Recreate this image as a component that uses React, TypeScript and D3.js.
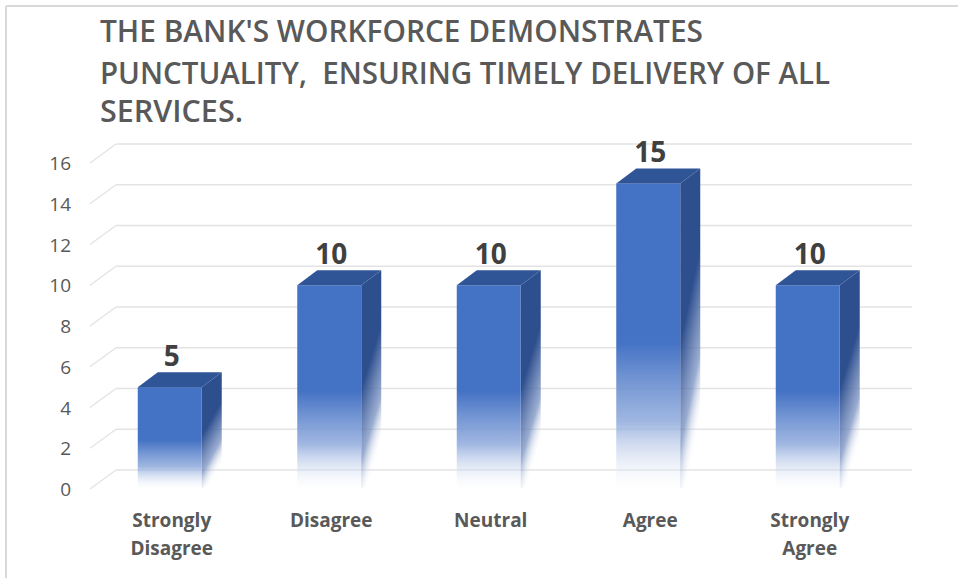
import React from "react";
import * as d3 from "d3";

const categories: string[][] = [
  ["Strongly", "Disagree"],
  ["Disagree"],
  ["Neutral"],
  ["Agree"],
  ["Strongly", "Agree"],
];
const values: number[] = [5, 10, 10, 15, 10];
const yTicks: number[] = [0, 2, 4, 6, 8, 10, 12, 14, 16];
const titleLines: string[] = [
  "THE BANK'S WORKFORCE DEMONSTRATES",
  "PUNCTUALITY,  ENSURING TIMELY DELIVERY OF ALL",
  "SERVICES.",
];

const W = 958;
const H = 578;
const FONT = "'Open Sans', 'Noto Sans', sans-serif";

export default function App() {
  const keys = categories.map((c) => c.join(" "));
  const x = d3.scaleBand<string>().domain(keys).range([90, 887.5]);
  const y = d3.scaleLinear().domain([0, 16]).range([489, 163]);
  const wallDx = 26;
  const wallDy = -19;
  const wallRight = 912;
  const barW = 64;
  const dx = 20;
  const dy = -15;
  const titleWidths = [603, 730, 143];
  const titleBase = [42, 84, 122];

  return (
    <svg
      width={W}
      height={H}
      style={{ position: "absolute", left: 0, top: 0, background: "#fff" }}
    >
      <defs>
        <linearGradient id="front" x1="0" y1="0" x2="0" y2="1">
          <stop offset="0" stopColor="#4472C4" stopOpacity={1} />
          <stop offset="0.52" stopColor="#4472C4" stopOpacity={1} />
          <stop offset="0.78" stopColor="#8FAADC" stopOpacity={0.85} />
          <stop offset="1" stopColor="#ffffff" stopOpacity={0.2} />
        </linearGradient>
        <linearGradient id="side" x1="0" y1="0" x2="0.3" y2="1">
          <stop offset="0" stopColor="#2E4F8E" stopOpacity={1} />
          <stop offset="0.5" stopColor="#2E4F8E" stopOpacity={1} />
          <stop offset="0.8" stopColor="#6F89BD" stopOpacity={0.7} />
          <stop offset="1" stopColor="#ffffff" stopOpacity={0} />
        </linearGradient>
      </defs>

      {/* frame */}
      <line x1={6} y1={6} x2={W} y2={6} stroke="#d9d9d9" strokeWidth={2} />
      <line x1={6} y1={6} x2={6} y2={H} stroke="#d9d9d9" strokeWidth={2} />

      {/* title */}
      {titleLines.map((t, i) => (
        <text
          key={i}
          x={100}
          y={titleBase[i]}
          fontFamily={FONT}
          fontSize={30}
          fontWeight={600}
          fill="#595959"
          textLength={titleWidths[i]}
          lengthAdjust="spacingAndGlyphs"
          style={{ whiteSpace: "pre" }}
        >
          {t}
        </text>
      ))}

      {/* gridlines */}
      {yTicks.map((t) => (
        <g key={t}>
          <line
            x1={90}
            y1={y(t)}
            x2={90 + wallDx}
            y2={y(t) + wallDy}
            stroke="#e3e3e3"
            strokeWidth={1.3}
          />
          <line
            x1={90 + wallDx}
            y1={y(t) + wallDy}
            x2={wallRight}
            y2={y(t) + wallDy}
            stroke="#e3e3e3"
            strokeWidth={1.3}
          />
          <text
            x={71}
            y={y(t)}
            textAnchor="end"
            dominantBaseline="central"
            fontFamily={FONT}
            fontSize={19}
            fill="#595959"
          >
            {t}
          </text>
        </g>
      ))}

      {/* bars */}
      {values.map((v, i) => {
        const cx = (x(keys[i]) as number) + x.bandwidth() / 2;
        const x0 = cx - barW / 2;
        const x1 = cx + barW / 2;
        const yt = y(v);
        const yb = y(0);
        const top = `M${x0},${yt} L${x1},${yt} L${x1 + dx},${yt + dy} L${x0 + dx},${yt + dy} Z`;
        const side = `M${x1},${yt} L${x1 + dx},${yt + dy} L${x1 + dx},${yb + dy} L${x1},${yb} Z`;
        return (
          <g key={i}>
            <path d={side} fill="url(#side)" />
            <rect x={x0} y={yt} width={barW} height={yb - yt} fill="url(#front)" />
            <path d={top} fill="#2F5597" />
            <text
              x={cx + 2}
              y={yt + dy - 6}
              textAnchor="middle"
              fontFamily={FONT}
              fontSize={28}
              fontWeight={700}
              fill="#404040"
            >
              {v}
            </text>
            {categories[i].map((line, j) => (
              <text
                key={j}
                x={cx + 2}
                y={527 + j * 28}
                textAnchor="middle"
                fontFamily={FONT}
                fontSize={19}
                fontWeight={700}
                fill="#595959"
              >
                {line}
              </text>
            ))}
          </g>
        );
      })}
    </svg>
  );
}
